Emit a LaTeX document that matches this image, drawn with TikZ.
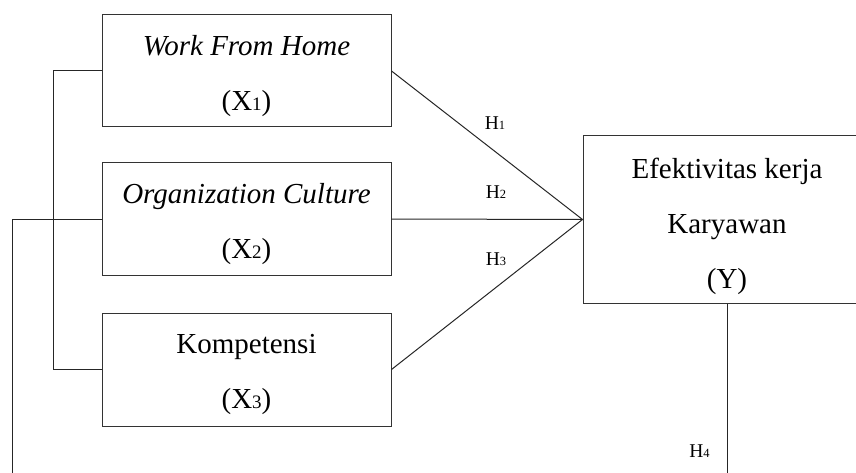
\documentclass[tikz,border=0pt]{standalone}
\usepackage{fontspec}
\setmainfont{Liberation Serif}
\newcommand{\mysub}[1]{{\fontsize{19}{19}\selectfont #1}}
\newcommand{\hsub}[1]{{\fontsize{12.5}{12.5}\selectfont #1}}
\begin{document}
\begin{tikzpicture}[x=1pt,y=-1pt,
  varbox/.style={draw=black!80, line width=1pt, rectangle, inner sep=0pt},
  txt/.style={inner sep=0pt, align=center, font=\fontsize{29}{55}\selectfont},
  conn/.style={draw=black!85, line width=1pt},
  hlab/.style={inner sep=0pt, font=\fontsize{19.5}{19.5}\selectfont}]
\useasboundingbox (0,0) rectangle (856,473);
\clip (0,0) rectangle (856,473);
\node[varbox, minimum width=289pt, minimum height=112pt] (x1) at (246.5,71) {};
\node[varbox, minimum width=289pt, minimum height=112pt] (x2) at (246.5,219) {};
\node[varbox, minimum width=289pt, minimum height=113pt] (x3) at (246.5,369.5) {};
\node[varbox, minimum width=288pt, minimum height=167pt] (yb) at (727,219.5) {};
\node[txt] (t1) at ([yshift=-5pt]x1.center) {\textit{Work From Home}\\(X\mysub{1})};
\node[txt] (t2) at ([yshift=-5pt]x2.center) {\textit{Organization Culture}\\(X\mysub{2})};
\node[txt] (t3) at ([yshift=-5pt]x3.center) {Kompetensi\\(X\mysub{3})};
\node[txt] (ty) at ([yshift=-7pt]yb.center) {Efektivitas kerja\\Karyawan\\(Y)};
\coordinate (e1) at (12,473);
\coordinate (e2) at (727,473);
\draw[conn] (x1.east) -- (yb.west);
\draw[conn] (x2.east) -- (yb.west);
\draw[conn] (x3.east) -- (yb.west);
\draw[conn] (x1.west) -- ++(-48,0) |- (x3.west);
\draw[conn] (x2.west) -| (e1);
\draw[conn] (yb.south) -- (e2);
\node[hlab] (h1) at (495,123) {H\hsub{1}};
\node[hlab] (h2) at (496,192) {H\hsub{2}};
\node[hlab] (h3) at (496,259) {H\hsub{3}};
\node[hlab] (h4) at (699.5,451) {H\hsub{4}};
\end{tikzpicture}
\end{document}
